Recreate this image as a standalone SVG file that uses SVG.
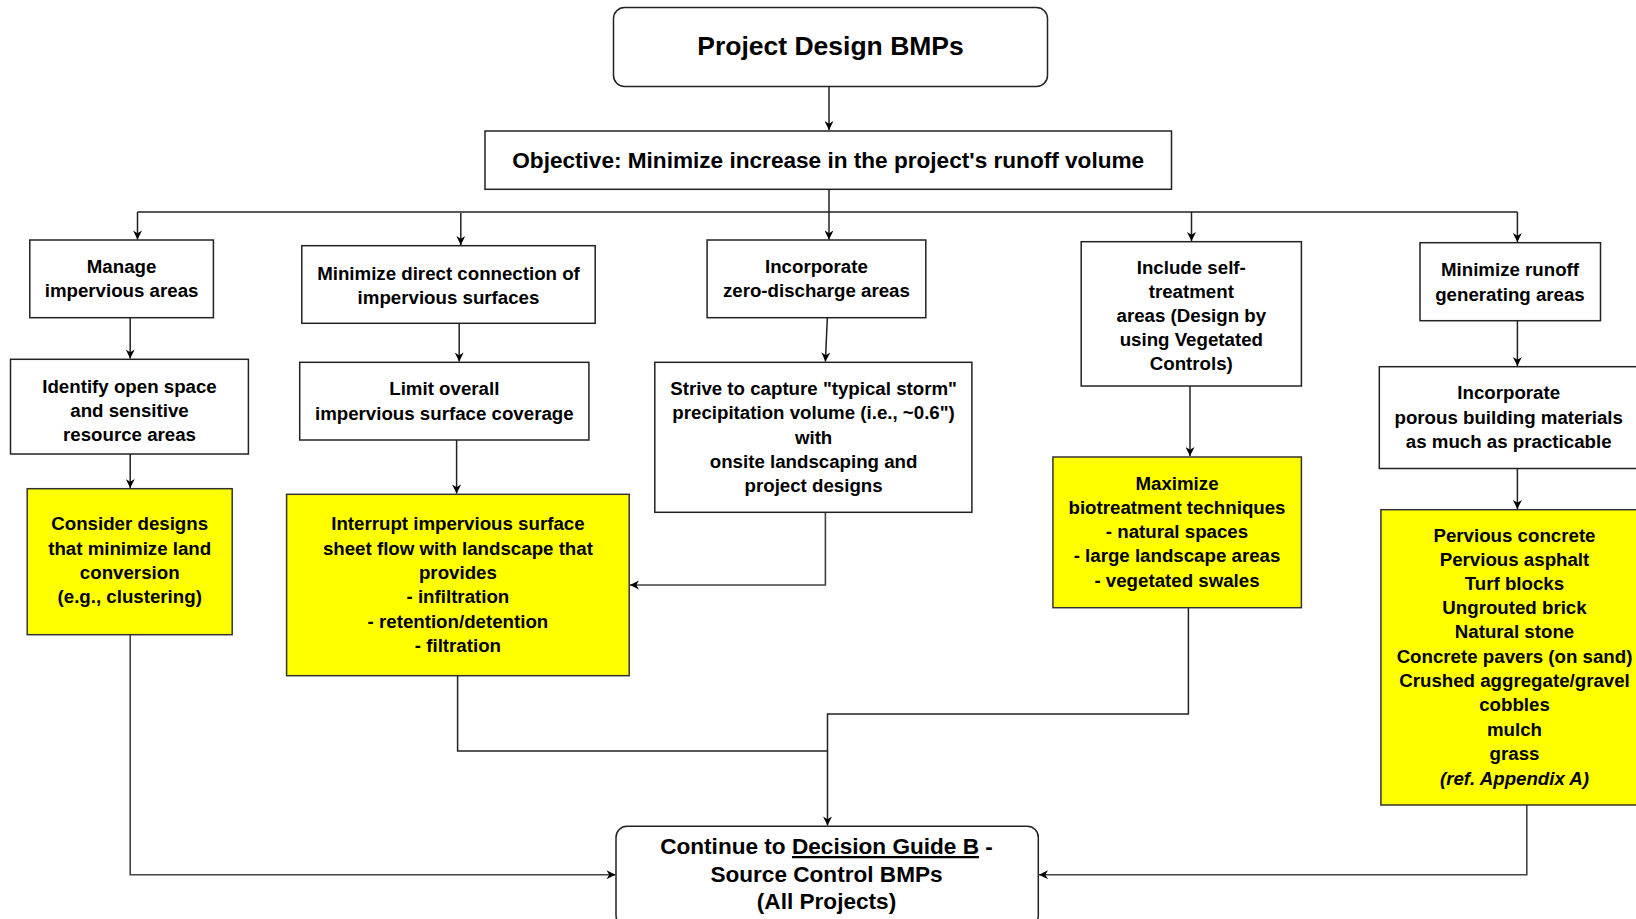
<svg xmlns="http://www.w3.org/2000/svg" width="1636" height="919" viewBox="0 0 1636 919">
<style>
text{font-family:"Liberation Sans",Arial,sans-serif;font-weight:bold;fill:#000;text-anchor:middle}
.t{font-size:18.7px}
.big{font-size:22.6px}
.title{font-size:26.5px}
.box{fill:#fff;stroke:#222;stroke-width:1.5}
.yel{fill:#ffff00;stroke:#333;stroke-width:1.5}
.c{fill:none;stroke:#222;stroke-width:1.5}
.cg{fill:none;stroke:#444;stroke-width:1.6}
</style>
<defs>
<marker id="ah" viewBox="0 0 10 10" refX="10" refY="5" markerWidth="10" markerHeight="9" markerUnits="userSpaceOnUse" orient="auto">
<path d="M0,0 L10,5 L0,10 L3,5 z" fill="#000"/>
</marker>
</defs>
<rect width="1636" height="919" fill="#fff"/>

<g id="connectors">
<path class="c" d="M829,87 V130" marker-end="url(#ah)"/>
<path class="c" d="M829,189 V212 M137.5,212 H1517.4"/>
<path class="c" d="M137.5,212 V239.5" marker-end="url(#ah)"/>
<path class="c" d="M460.8,213 V245" marker-end="url(#ah)"/>
<path class="c" d="M829,212 V239.5" marker-end="url(#ah)"/>
<path class="c" d="M1191.5,212 V241" marker-end="url(#ah)"/>
<path class="c" d="M1517.4,212 V242" marker-end="url(#ah)"/>
<path class="c" d="M130.2,318 V358.5" marker-end="url(#ah)"/>
<path class="c" d="M459.2,321 V361.5" marker-end="url(#ah)"/>
<path class="c" d="M827.5,314 L825.4,361.5" marker-end="url(#ah)"/>
<path class="c" d="M1190,386 V456" marker-end="url(#ah)"/>
<path class="c" d="M1517.4,320.7 V366" marker-end="url(#ah)"/>
<path class="c" d="M130.2,454 V488" marker-end="url(#ah)"/>
<path class="c" d="M456.6,438 V493.5" marker-end="url(#ah)"/>
<path class="cg" d="M825.4,512.3 V585 H630" marker-end="url(#ah)"/>
<path class="c" d="M1517.4,468.5 V509" marker-end="url(#ah)"/>
<path class="cg" d="M130.2,634.7 V874.7 H615.5" marker-end="url(#ah)"/>
<path class="c" d="M457.6,675.7 V751 H827.5"/>
<path class="c" d="M1188.4,603 V714 H827.5 V825.6" marker-end="url(#ah)"/>
<path class="cg" d="M1526.8,795 V874.7 H1039" marker-end="url(#ah)"/>
</g>

<g id="n-project">
<rect class="box" x="613.5" y="7.5" width="434" height="79" rx="11"/>
<text class="title" x="830.5" y="55">Project Design BMPs</text>
</g>

<g id="n-objective">
<rect class="box" x="485" y="131" width="686.5" height="58.3"/>
<text class="big" x="828.2" y="168">Objective: Minimize increase in the project's runoff volume</text>
</g>

<g id="n-manage">
<rect class="box" x="29.8" y="240" width="183.6" height="77.7"/>
<text class="t"><tspan x="121.6" y="273">Manage</tspan><tspan x="121.6" y="297">impervious areas</tspan></text>
</g>

<g id="n-mindirect">
<rect class="box" x="301.8" y="245.7" width="293.4" height="77.6"/>
<text class="t"><tspan x="448.5" y="279.5">Minimize direct connection of</tspan><tspan x="448.5" y="303.5">impervious surfaces</tspan></text>
</g>

<g id="n-zero">
<rect class="box" x="707.1" y="240" width="218.7" height="77.7"/>
<text class="t"><tspan x="816.4" y="273">Incorporate</tspan><tspan x="816.4" y="297">zero-discharge areas</tspan></text>
</g>

<g id="n-self">
<rect class="box" x="1081.2" y="241.7" width="220.2" height="144.3"/>
<text class="t"><tspan x="1191.3" y="273.5">Include self-</tspan><tspan x="1191.3" y="298">treatment</tspan><tspan x="1191.3" y="322">areas (Design by</tspan><tspan x="1191.3" y="346">using Vegetated</tspan><tspan x="1191.3" y="370">Controls)</tspan></text>
</g>

<g id="n-minrunoff">
<rect class="box" x="1420" y="242.7" width="180.5" height="78"/>
<text class="t"><tspan x="1510" y="276">Minimize runoff</tspan><tspan x="1510" y="300.5">generating areas</tspan></text>
</g>

<g id="n-identify">
<rect class="box" x="10.5" y="359.3" width="237.9" height="94.7"/>
<text class="t"><tspan x="129.5" y="392.5">Identify open space</tspan><tspan x="129.5" y="416.5">and sensitive</tspan><tspan x="129.5" y="440.5">resource areas</tspan></text>
</g>

<g id="n-limit">
<rect class="box" x="299.7" y="362.3" width="289.2" height="77.7"/>
<text class="t"><tspan x="444.3" y="394.5">Limit overall</tspan><tspan x="444.3" y="419.5">impervious surface coverage</tspan></text>
</g>

<g id="n-strive">
<rect class="box" x="654.8" y="362.3" width="317.1" height="150"/>
<text class="t"><tspan x="813.6" y="394.5">Strive to capture "typical storm"</tspan><tspan x="813.6" y="419">precipitation volume (i.e., ~0.6")</tspan><tspan x="813.6" y="443.5">with</tspan><tspan x="813.6" y="467.5">onsite landscaping and</tspan><tspan x="813.6" y="492">project designs</tspan></text>
</g>

<g id="n-porous">
<rect class="box" x="1379.3" y="366.7" width="270" height="101.8"/>
<text class="t"><tspan x="1508.7" y="398.5">Incorporate</tspan><tspan x="1508.7" y="423.5">porous building materials</tspan><tspan x="1508.7" y="448">as much as practicable</tspan></text>
</g>

<g id="n-consider">
<rect class="yel" x="27.2" y="488.7" width="205" height="146"/>
<text class="t"><tspan x="129.7" y="530.3">Consider designs</tspan><tspan x="129.7" y="555">that minimize land</tspan><tspan x="129.7" y="579">conversion</tspan><tspan x="129.7" y="603.3">(e.g., clustering)</tspan></text>
</g>

<g id="n-interrupt">
<rect class="yel" x="286.6" y="494.3" width="342.6" height="181.4"/>
<text class="t"><tspan x="457.9" y="530">Interrupt impervious surface</tspan><tspan x="457.9" y="555">sheet flow with landscape that</tspan><tspan x="457.9" y="579">provides</tspan><tspan x="457.9" y="603">- infiltration</tspan><tspan x="457.9" y="627.5">- retention/detention</tspan><tspan x="457.9" y="651.5">- filtration</tspan></text>
</g>

<g id="n-maximize">
<rect class="yel" x="1052.9" y="457" width="248.5" height="150.7"/>
<text class="t"><tspan x="1177" y="489.5">Maximize</tspan><tspan x="1177" y="513.5">biotreatment techniques</tspan><tspan x="1177" y="538">- natural spaces</tspan><tspan x="1177" y="562">- large landscape areas</tspan><tspan x="1177" y="586.5">- vegetated swales</tspan></text>
</g>

<g id="n-pervious">
<rect class="yel" x="1380.9" y="509.7" width="270" height="295.3"/>
<text class="t"><tspan x="1514.5" y="541.8">Pervious concrete</tspan><tspan x="1514.5" y="566.3">Pervious asphalt</tspan><tspan x="1514.5" y="590.3">Turf blocks</tspan><tspan x="1514.5" y="614.3">Ungrouted brick</tspan><tspan x="1514.5" y="638.3">Natural stone</tspan><tspan x="1514.5" y="663">Concrete pavers (on sand)</tspan><tspan x="1514.5" y="687">Crushed aggregate/gravel</tspan><tspan x="1514.5" y="711.3">cobbles</tspan><tspan x="1514.5" y="736">mulch</tspan><tspan x="1514.5" y="760">grass</tspan><tspan x="1514.5" y="784.5" font-style="italic">(ref. Appendix A)</tspan></text>
</g>

<g id="n-continue">
<rect class="box" x="616" y="826.3" width="422.3" height="100" rx="11"/>
<text class="big"><tspan x="826.5" y="854">Continue to <tspan text-decoration="underline">Decision Guide B</tspan> -</tspan><tspan x="826.5" y="881.5">Source Control BMPs</tspan><tspan x="826.5" y="909">(All Projects)</tspan></text>
</g>
</svg>
